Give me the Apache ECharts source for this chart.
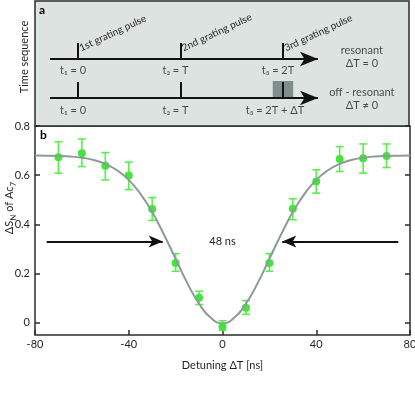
<!DOCTYPE html>
<html>
<head>
<meta charset="utf-8">
<script src="https://cdn.jsdelivr.net/npm/echarts@6/dist/echarts.min.js"></script>
<style>
  html, body { margin: 0; padding: 0; background: #fff; }
  #chart { width: 415px; height: 399px; }
</style>
</head>
<body>
<div id="chart"></div>
<script>
// panel b: measured points (detuning in ns)
var detuning = [-70, -60, -50, -40, -30, -20, -10, 0, 10, 20, 30, 40, 50, 60, 70];
var signal = [0.673, 0.689, 0.638, 0.599, 0.462, 0.243, 0.101, -0.016, 0.061, 0.243, 0.463, 0.574, 0.666, 0.669, 0.678];
var errLow = [0.608, 0.635, 0.581, 0.541, 0.416, 0.209, 0.074, -0.031, 0.034, 0.209, 0.419, 0.527, 0.615, 0.608, 0.631];
var errHigh = [0.736, 0.747, 0.692, 0.653, 0.509, 0.281, 0.128, 0.008, 0.090, 0.281, 0.504, 0.622, 0.716, 0.727, 0.727];

// fitted curve
var fitX = [-80, -75, -70, -65, -60, -55, -50, -45, -40, -35, -30, -25, -20, -15, -10, -5, 0,
            5, 10, 15, 20, 25, 30, 35, 40, 45, 50, 55, 60, 65, 70, 75, 80];
var fitY = [0.680, 0.679, 0.678, 0.676, 0.671, 0.662, 0.646, 0.620, 0.581, 0.524, 0.450, 0.359, 0.260, 0.161, 0.077, 0.020, -0.003,
            0.020, 0.077, 0.161, 0.260, 0.359, 0.450, 0.524, 0.581, 0.620, 0.646, 0.662, 0.671, 0.676, 0.678, 0.679, 0.680];

var yTicks = [0, 0.2, 0.4, 0.6, 0.8];

// FWHM arrows
var fwhmY = 0.33;
var fwhmArrows = [[-75, -25.5], [75, 25.5]];
var fwhmLabel = '48 ns';

// panel a: time sequence (times in units of T)
var pulseTimes = [0, 1, 2];
var pulseNames = ['1st grating pulse', '2nd grating pulse', '3rd grating pulse'];
var resonantLabels = ['t\u2081 = 0', 't\u2082 = T', 't\u2083 = 2T'];
var offResonantLabels = ['t\u2081 = 0', 't\u2082 = T', 't\u2083 = 2T + \u0394T'];
var detuneWindow = [1.9, 2.1];
var timeline = [-0.273, 2.342];

var FONT = 'Lato, "Open Sans", "DejaVu Sans", sans-serif';
var TEXT = '#231f20';
var GREEN = '#44e43a';
var BAR = '#58f048';
var CURVE = '#8c9a99';
var FRAME = '#2b2b2b';

var chart = echarts.init(document.getElementById('chart'));

// rows of panel a (pixels from top of panel)
var row1 = 58, row2 = 97, tickLen = 16;

function txt(x, v, text, extra) {
	return { value: [x, v], label: Object.assign({ show: true, formatter: text }, extra || {}) };
}

var schematicLabels = [];
pulseTimes.forEach(function(t, i) {
	schematicLabels.push(txt(t, row1 + 11, resonantLabels[i], { offset: [-5, 0] }));
	schematicLabels.push(txt(t, row2 + 12, offResonantLabels[i], { offset: i == 2 ? [-8, 0] : [-5, 0] }));
});
schematicLabels.push(txt(2.77, 49, 'resonant'));
schematicLabels.push(txt(2.77, 62, '\u0394T = 0'));
schematicLabels.push(txt(2.77, 91, 'off - resonant'));
schematicLabels.push(txt(2.77, 104, '\u0394T \u2260 0'));

var schematicLines = [];
[row1, row2].forEach(function(r) {
	schematicLines.push([{ coord: [timeline[0], r], symbol: 'none' }, { coord: [timeline[1], r], symbol: 'arrow', symbolSize: [11, 18] }]);
	pulseTimes.forEach(function(t) {
		schematicLines.push([{ coord: [t, r - tickLen], symbol: 'none' }, { coord: [t, r], symbol: 'none' }]);
	});
});

var staticGraphics = [
	{ type: 'text', x: 39, y: 4, style: { text: 'a', font: 'bold 12px ' + FONT, fill: '#000' } },
	{ type: 'text', x: 40, y: 129, style: { text: 'b', font: 'bold 12px ' + FONT, fill: '#000' } },
	{ type: 'text', x: 24, y: 57, rotation: Math.PI / 2,
		style: { text: 'Time sequence', font: '11px ' + FONT, fill: TEXT, align: 'center', verticalAlign: 'middle' } },
	{ type: 'text', x: 9, y: 208, rotation: Math.PI / 2,
		style: {
			text: '{a|\u0394S}{s|N}{a| of Ac}{s|7}',
			align: 'center', verticalAlign: 'middle', fill: TEXT,
			rich: {
				a: { fontSize: 11, lineHeight: 16, fontFamily: FONT, color: TEXT },
				s: { fontSize: 8, lineHeight: 8, verticalAlign: 'bottom', fontFamily: FONT, color: TEXT }
			}
		} }
];

var option = {
	animation: false,
	textStyle: { fontFamily: FONT, color: TEXT },
	grid: [
		{ left: 35, top: 126, width: 375, height: 209, show: true, borderColor: FRAME, borderWidth: 1.5, outerBoundsMode: 'none' },
		{ left: 35, top: 1, width: 374, height: 125, show: true, backgroundColor: '#dde3e0', borderColor: FRAME, borderWidth: 1.5, outerBoundsMode: 'none' }
	],
	xAxis: [
		{
			gridIndex: 0, type: 'value', min: -80, max: 80, interval: 40,
			name: 'Detuning \u0394T [ns]', nameLocation: 'middle', nameGap: 25,
			nameTextStyle: { fontSize: 11, color: TEXT, fontFamily: FONT },
			axisLine: { show: false, onZero: false },
			axisTick: { inside: true, length: 5, lineStyle: { color: FRAME, width: 1.5 } },
			axisLabel: { fontSize: 11, color: TEXT, margin: 4, showMinLabel: true, showMaxLabel: true, hideOverlap: false },
			splitLine: { show: false }
		},
		{ gridIndex: 1, type: 'value', min: -0.42, max: 3.23, show: false }
	],
	yAxis: [
		{
			gridIndex: 0, type: 'value', min: -0.05, max: 0.8,
			axisLine: { show: false, onZero: false },
			axisTick: { inside: true, length: 5, customValues: yTicks, lineStyle: { color: FRAME, width: 1.5 } },
			axisLabel: { fontSize: 11, color: TEXT, margin: 5, customValues: yTicks,
				formatter: function(v) { return v === 0 ? '0' : v.toFixed(1); } },
			splitLine: { show: false }
		},
		{
			gridIndex: 0, type: 'value', min: -0.05, max: 0.8, position: 'right',
			axisLine: { show: false, onZero: false },
			axisTick: { inside: true, length: 5, customValues: yTicks, lineStyle: { color: FRAME, width: 1.5 } },
			axisLabel: { show: false },
			splitLine: { show: false }
		},
		{ gridIndex: 1, type: 'value', min: 0, max: 125, inverse: true, show: false }
	],
	graphic: staticGraphics,
	series: [
		{
			type: 'line', xAxisIndex: 1, yAxisIndex: 2, data: [], silent: true,
			markArea: {
				silent: true,
				itemStyle: { color: '#7e8e8b' },
				data: [[{ coord: [detuneWindow[0], row2 - tickLen - 1] }, { coord: [detuneWindow[1], row2] }]]
			},
			markLine: {
				silent: true, symbol: 'none',
				lineStyle: { color: '#111', width: 2, type: 'solid' },
				label: { show: false },
				data: schematicLines
			}
		},
		{
			type: 'scatter', xAxisIndex: 1, yAxisIndex: 2, symbolSize: 0, silent: true,
			label: { show: true, position: [0, 0], align: 'center', verticalAlign: 'middle', fontSize: 11, color: TEXT, fontFamily: FONT },
			data: schematicLabels
		},
		{
			type: 'custom', xAxisIndex: 0, yAxisIndex: 0, silent: true,
			data: detuning.map(function(x, i) { return [x, signal[i], errLow[i], errHigh[i]]; }),
			encode: { x: 0, y: [2, 3] },
			renderItem: function(params, api) {
				var lo = api.coord([api.value(0), api.value(2)]);
				var hi = api.coord([api.value(0), api.value(3)]);
				var w = 4;
				var st = { stroke: BAR, lineWidth: 1.6 };
				return { type: 'group', children: [
					{ type: 'line', shape: { x1: lo[0], y1: lo[1], x2: hi[0], y2: hi[1] }, style: st },
					{ type: 'line', shape: { x1: lo[0] - w, y1: lo[1], x2: lo[0] + w, y2: lo[1] }, style: st },
					{ type: 'line', shape: { x1: hi[0] - w, y1: hi[1], x2: hi[0] + w, y2: hi[1] }, style: st }
				] };
			}
		},
		{
			type: 'scatter', xAxisIndex: 0, yAxisIndex: 0, symbol: 'circle', symbolSize: 8, silent: true,
			itemStyle: { color: GREEN, opacity: 1 },
			data: detuning.map(function(x, i) { return [x, signal[i]]; })
		},
		{
			type: 'line', xAxisIndex: 0, yAxisIndex: 0, smooth: true, showSymbol: false, silent: true,
			lineStyle: { color: CURVE, width: 2 },
			data: fitX.map(function(x, i) { return [x, fitY[i]]; }),
			markLine: {
				silent: true, symbol: ['none', 'arrow'], symbolSize: [9, 14],
				lineStyle: { color: '#111', width: 2, type: 'solid' },
				label: { show: false },
				data: fwhmArrows.map(function(a) { return [{ coord: [a[0], fwhmY] }, { coord: [a[1], fwhmY] }]; })
			},
			markPoint: {
				silent: true, symbolSize: 0,
				label: { show: true, formatter: fwhmLabel, fontSize: 11, color: TEXT, fontFamily: FONT, position: 'inside' },
				data: [{ coord: [0, fwhmY] }]
			}
		}
	]
};

chart.setOption(option);

// slanted pulse names, placed at the pulse positions of panel a
var slanted = pulseTimes.map(function(t, i) {
	var p = chart.convertToPixel({ xAxisIndex: 1, yAxisIndex: 2 }, [t, row1 - 6]);
	return {
		type: 'text', x: p[0] + 4, y: p[1], rotation: 25 * Math.PI / 180,
		style: { text: pulseNames[i], font: '10px ' + FONT, fill: TEXT, align: 'left', verticalAlign: 'bottom' }
	};
});
chart.setOption({ graphic: staticGraphics.concat(slanted) });
</script>
</body>
</html>
